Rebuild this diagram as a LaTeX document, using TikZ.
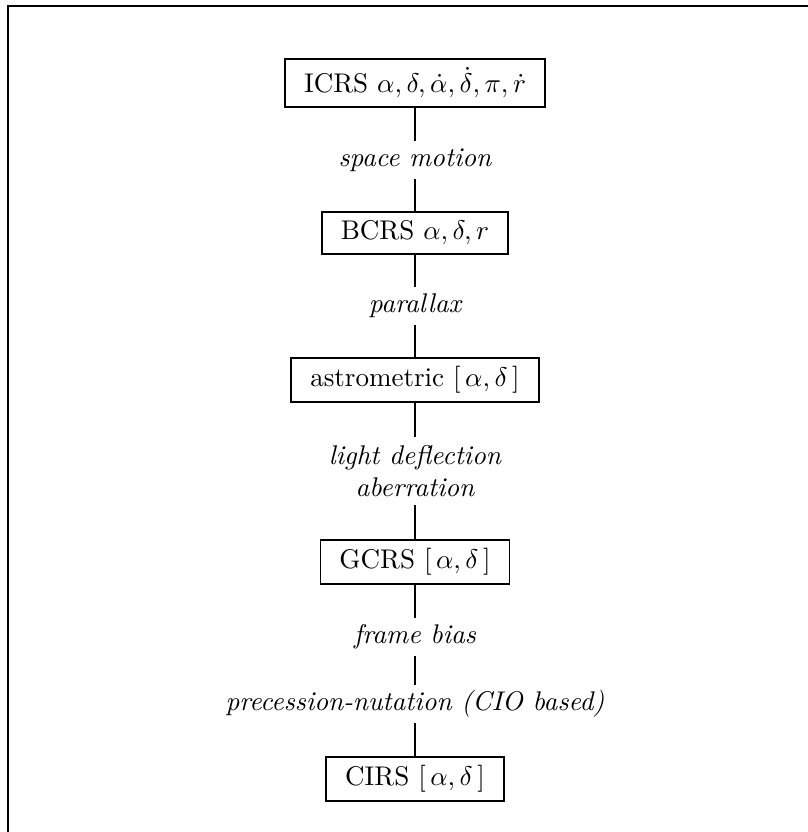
\documentclass[tikz,border=0pt]{standalone}
\begin{document}
\begin{tikzpicture}[x=0.37pt,y=-0.37pt,
  framebox/.style={draw=black,line width=0.7pt,inner xsep=7pt,inner ysep=3.3pt,fill=white},
  steplabel/.style={inner sep=0pt,minimum height=13.3pt,font=\itshape,align=center},
  link/.style={line width=0.55pt,black}]
  % page area and the clipped frame (top and left edges only)
  \useasboundingbox (0,0) rectangle (808,832);
  \draw[line width=0.75pt] (808,6) -- (8,6) -- (8,832);

  % reference systems
  \node[framebox] (icrs)  at (415,83)  {ICRS $\alpha,\delta,\dot\alpha,\dot\delta,\pi,\dot r$};
  \node[framebox] (bcrs)  at (415,233) {BCRS $\alpha,\delta,r$};
  \node[framebox] (astro) at (415,380) {astrometric $[\,\alpha,\delta\,]$};
  \node[framebox] (gcrs)  at (415,562) {GCRS $[\,\alpha,\delta\,]$};
  \node[framebox] (cirs)  at (415,779) {CIRS $[\,\alpha,\delta\,]$};

  % transformation steps
  \node[steplabel] (sm) at (415,160) {space motion};
  \node[steplabel] (px) at (415,306) {parallax};
  \node[steplabel,minimum height=24.8pt] (ld) at (415,471) {light deflection\\aberration};
  \node[steplabel] (fb) at (415,637) {frame bias};
  \node[steplabel] (pn) at (415,704) {precession-nutation (CIO based)};

  % connectors
  \draw[link] (icrs) -- (sm);
  \draw[link] (sm) -- (bcrs);
  \draw[link] (bcrs) -- (px);
  \draw[link] (px) -- (astro);
  \draw[link] (astro) -- (ld);
  \draw[link] (ld) -- (gcrs);
  \draw[link] (gcrs) -- (fb);
  \draw[link] (fb) -- (pn);
  \draw[link] (pn) -- (cirs);
\end{tikzpicture}
\end{document}
